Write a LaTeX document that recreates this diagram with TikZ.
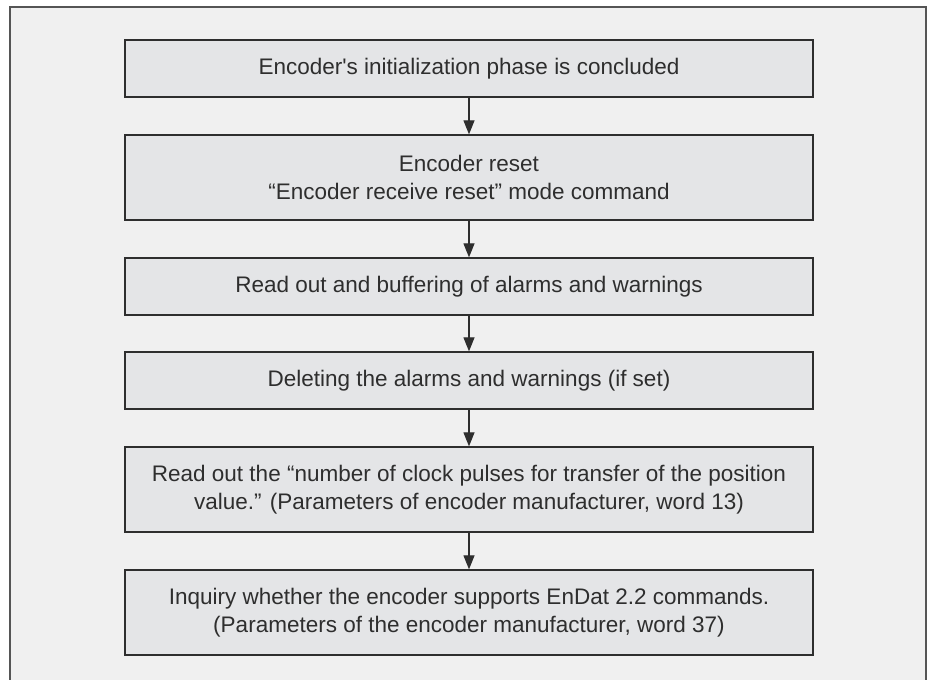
\documentclass[tikz,border=0pt]{standalone}
\usepackage{fontspec}
\setmainfont{Liberation Sans}
\usetikzlibrary{arrows.meta}
\definecolor{pagebg}{HTML}{F0F0F0}
\definecolor{boxfill}{HTML}{E4E5E7}
\definecolor{ink}{HTML}{2E2E2E}
\definecolor{framecol}{HTML}{555555}
\begin{document}
\begin{tikzpicture}[x=1pt,y=-1pt,
  stepbox/.style={draw=ink, line width=1.3pt, fill=boxfill, text=ink,
    minimum width=688pt, inner sep=0pt, align=center,
    font=\fontsize{22.5pt}{27.5pt}\selectfont},
  single/.style={stepbox, minimum height=57pt},
  double/.style={stepbox, minimum height=85pt},
  flow/.style={draw=ink, line width=1.2pt, -{Triangle[length=14pt,width=11pt]}}]
  \useasboundingbox (0,0) rectangle (930,680);
  \clip (0,0) rectangle (930,680);
  % outer panel
  \fill[white] (0,0) rectangle (930,680);
  \draw[framecol, line width=1.3pt, fill=pagebg] (10,720) -- (10,7) -- (926,7) -- (926,720);
  % process steps
  \node[single] (s1) at (469,68.5) {Encoder\textquotesingle s initialization phase is concluded};
  \node[double] (s2) at (469,177.5) {Encoder reset\\“Encoder receive reset” mode command};
  \node[single] (s3) at (469,286.5) {Read out and buffering of alarms and warnings};
  \node[single] (s4) at (469,380.5) {Deleting the alarms and warnings (if set)};
  \node[double] (s5) at (469,489.5) {Read out the “number of clock pulses for transfer of the position\\value.” (Parameters of encoder manufacturer, word 13)};
  \node[double] (s6) at (469,612.5) {Inquiry whether the encoder supports EnDat 2.2 commands.\\(Parameters of the encoder manufacturer, word 37)};
  % connectors
  \draw[flow] (s1.south) -- (s2.north);
  \draw[flow] (s2.south) -- (s3.north);
  \draw[flow] (s3.south) -- (s4.north);
  \draw[flow] (s4.south) -- (s5.north);
  \draw[flow] (s5.south) -- (s6.north);
\end{tikzpicture}
\end{document}
